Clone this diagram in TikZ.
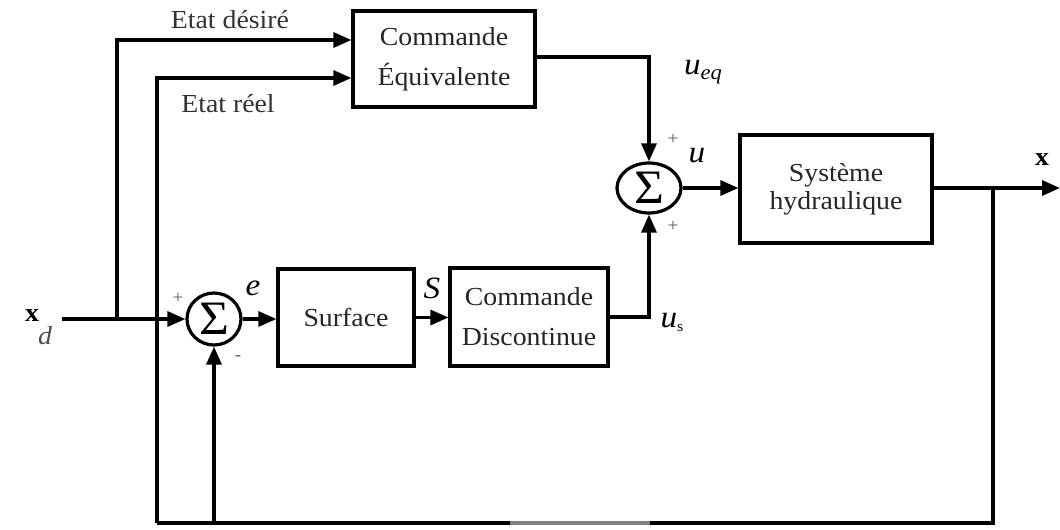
\documentclass[tikz,border=0pt]{standalone}
\usepackage{fontspec}
\setmainfont{Liberation Serif}[FakeStretch=1.07]
\usetikzlibrary{arrows.meta,shapes.geometric}
\begin{document}
\begin{tikzpicture}[x=1pt,y=-1pt,line width=3.2pt,
  >={Triangle[length=18pt,width=15pt]},
  blk/.style={draw,rectangle,inner sep=0pt,align=center,text=black!85,font=\fontsize{26}{28}\selectfont},
  sumnode/.style={draw,ellipse,inner sep=0pt,font=\fontsize{48}{48}\selectfont},
  lbl/.style={font=\fontsize{26}{28}\selectfont,inner sep=0pt},
  mlbl/.style={font=\fontsize{31}{31}\selectfont,inner sep=0pt},
  sgn/.style={font=\fontsize{18}{18}\selectfont,inner sep=0pt,text=black!65},
  wire/.style={line width=3.2pt}]
\useasboundingbox[fill=white] (0,0) rectangle (1060,530);

% blocks
\node[blk,minimum width=182pt,minimum height=96pt] (ceq) at (444,59) {Commande\\[12pt]Équivalente};
\node[blk,minimum width=192pt,minimum height=108pt] (sys) at (836,189) {Système\\hydraulique};
\node[blk,minimum width=136pt,minimum height=97pt] (surf) at (346,317.5) {Surface};
\node[blk,minimum width=158pt,minimum height=98pt] (cdis) at (529,317) {Commande\\[12pt]Discontinue};
\node[sumnode,minimum width=64pt,minimum height=50pt] (sum1) at (649,188) {Σ};
\node[sumnode,minimum width=54pt,minimum height=52pt] (sum2) at (214,319) {Σ};

% coordinates
\coordinate (xdin) at (62,319);
\coordinate (j1) at (117,319);
\coordinate (xout) at (1060,188);
\coordinate (br) at (993,188);
\coordinate (fbl) at (157,523);
\coordinate (fb2) at (214,523);

% connectors
\draw[wire,->] (xdin) -- (sum2.west);
\draw[wire,->] (j1) |- ([yshift=19pt]ceq.west);
\draw[wire] (br) |- (fbl);
\draw[wire,->] (fbl) |- ([yshift=-19pt]ceq.west);
\draw[wire,->] (fb2) -- (sum2.south);
\draw[gray,line width=3.8pt] (510,523) -- (650,523);
\draw[wire,->] ([yshift=2pt]ceq.east) -| (sum1.north);
\draw[wire,->] (sum1.east) -- (sum1.east -| sys.west);
\draw[wire,->] (sys.east |- xout) -- (xout);
\draw[wire,->] (sum2.east) -- (sum2.east -| surf.west);
\draw[wire,->] (surf.east) -- (surf.east -| cdis.west);
\draw[wire,->] (cdis.east) -| (sum1.south);

% labels
\node[lbl,text=black!80] (ld) at (230,20) {Etat désiré};
\node[lbl,text=black!80] (lr) at (228,104) {Etat réel};
\node[mlbl] (lueq) at (703,72) {\textit{u}\raisebox{-5pt}{\fontsize{21}{21}\selectfont\textit{eq}}};
\node[mlbl] (lu) at (697,156) {\textit{u}};
\node[sgn] (p1) at (673,139) {+};
\node[sgn] (p2) at (673,226) {+};
\node[lbl] (lx) at (1042,160) {\textbf{x}};
\node[lbl] (lxd) at (32,316) {\textbf{x}};
\node[lbl,text=black!70] (lxdd) at (45,336) {\textit{d}};
\node[sgn] (p3) at (178,298) {+};
\node[sgn] (m3) at (238,358) {-};
\node[mlbl] (le) at (253,288) {\textit{e}};
\node[mlbl] (ls) at (432,288) {\textit{S}};
\node[mlbl] (lus) at (672,322) {\textit{u}\raisebox{-4pt}{\fontsize{15}{15}\selectfont s}};
\end{tikzpicture}
\end{document}
